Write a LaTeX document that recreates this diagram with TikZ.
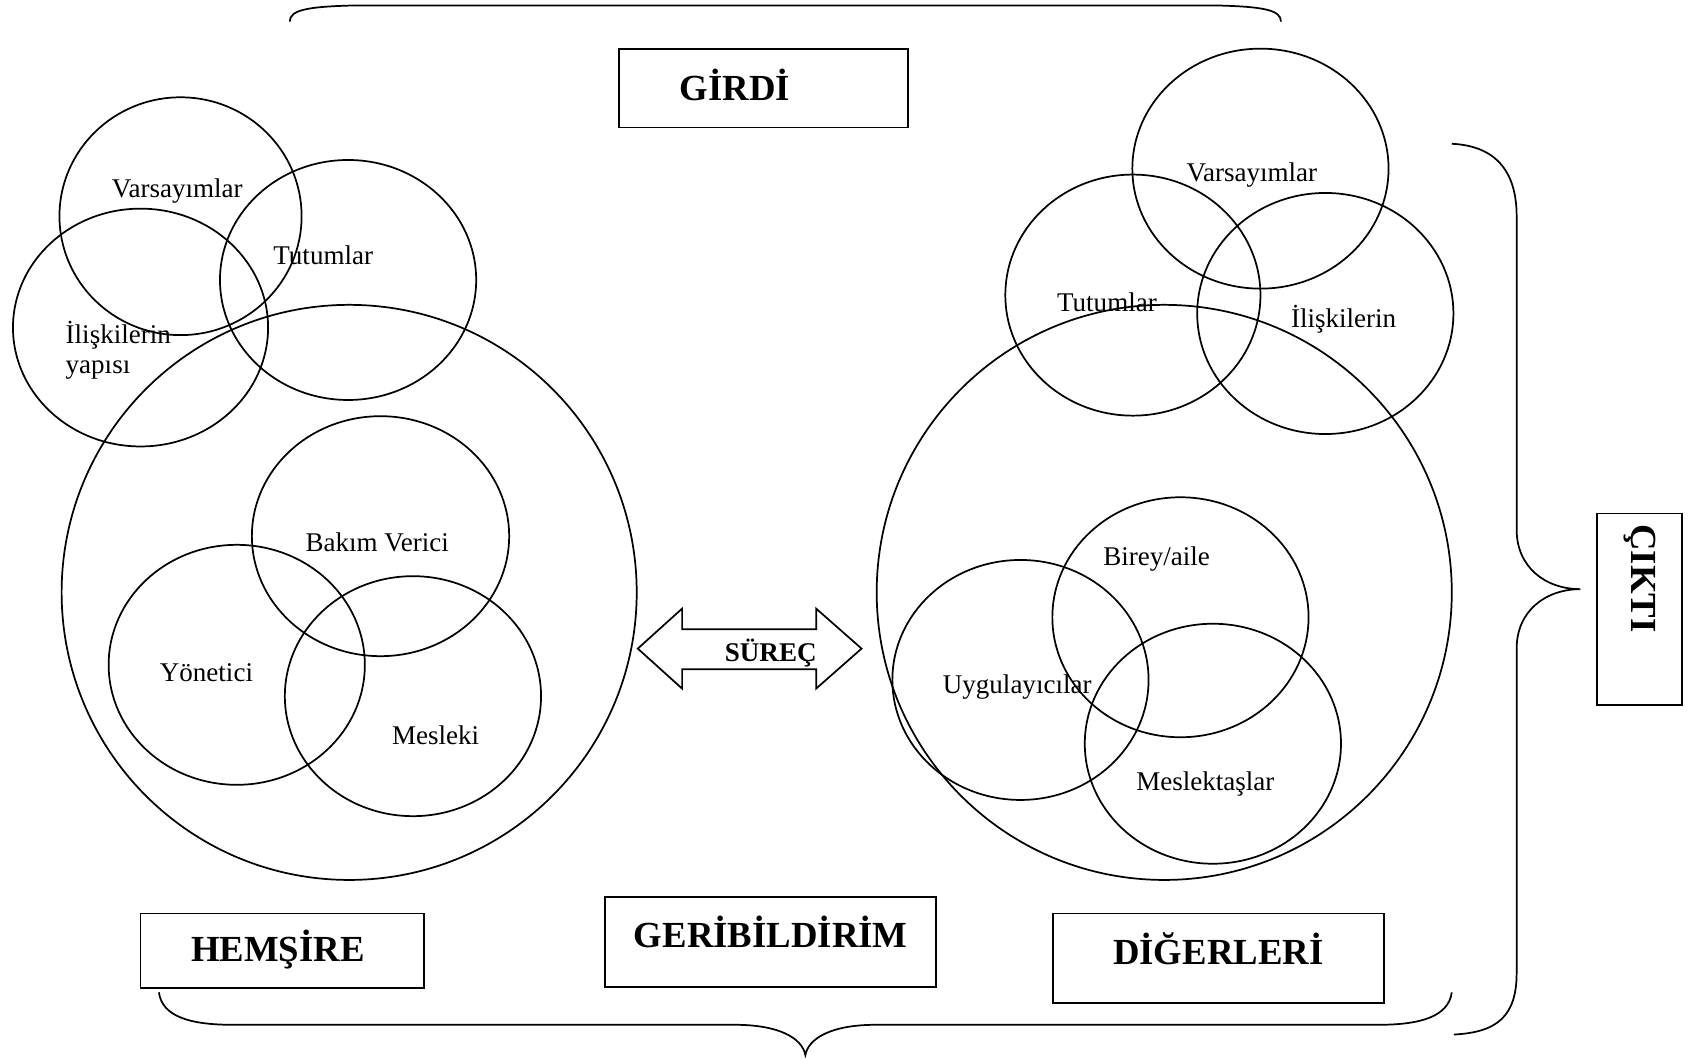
\documentclass[tikz,border=0pt]{standalone}
\usepackage{fontspec}
\setmainfont{Liberation Serif}
\begin{document}
\begin{tikzpicture}[x=1pt,y=-1pt,line width=1.6pt,
  lbl/.style={font=\fontsize{25}{30}\selectfont, inner sep=0pt},
  ttl/.style={font=\fontsize{34}{40}\selectfont\bfseries, inner sep=0pt},
  boxst/.style={draw, line width=1.7pt, inner sep=0pt}]
\useasboundingbox (0,0) rectangle (1568,980);

% braces
\draw (268,20) .. controls (268,9) and (285,6) .. (330,5) -- (1123,5) .. controls (1168,6) and (1185,9) .. (1185,20);
\draw (147,918) .. controls (150,940) and (175,948) .. (215,948) -- (680,948) .. controls (720,948) and (742,960) .. (745,976) .. controls (748,960) and (770,948) .. (810,948) -- (1275,948) .. controls (1315,948) and (1340,940) .. (1343,918);
\draw (1343,133) .. controls (1385,135) and (1403,160) .. (1403,200) -- (1403,490) .. controls (1403,525) and (1430,545) .. (1462,545) .. controls (1430,545) and (1403,565) .. (1403,600) -- (1403,900) .. controls (1403,940) and (1385,955) .. (1345,957);

% boxes
\node[boxst, minimum width=267pt, minimum height=73pt] (girdibox) at (706.5,81.5) {};
\node[ttl] (girdi) at (680,79) {GİRDİ};
\node[boxst, minimum width=79pt, minimum height=177pt] (ciktibox) at (1516.5,563.5) {};
\node[ttl, rotate=-90] (cikti) at (1517,535) {ÇIKTI};
\node[boxst, minimum width=262pt, minimum height=69pt] (hembox) at (261,879.5) {};
\node[ttl] (hem) at (257,878) {HEMŞİRE};
\node[boxst, minimum width=306pt, minimum height=83pt] (geribox) at (713,871.5) {};
\node[ttl] (geri) at (713,862) {GERİBİLDİRİM};
\node[boxst, minimum width=306pt, minimum height=83pt] (digbox) at (1127,886.5) {};
\node[ttl] (dig) at (1127,878) {DİĞERLERİ};

% left cluster
\draw (167,200) ellipse [x radius=112pt, y radius=110pt];
\draw (130,303) ellipse [x radius=118pt, y radius=110pt];
\draw (322,259) ellipse [x radius=118.5pt, y radius=111pt];
\draw (323,548) ellipse [x radius=266pt, y radius=266pt];
\draw (352,496) ellipse [x radius=119pt, y radius=111pt];
\draw (219,615) ellipse [x radius=118.5pt, y radius=111pt];
\draw (382,644) ellipse [x radius=118.5pt, y radius=111pt];
\node[lbl] (lvar) at (164,177) {Varsayımlar};
\node[lbl] (ltut) at (299,236) {Tutumlar};
\node[lbl, anchor=west] (lili) at (60,310) {İlişkilerin};
\node[lbl, anchor=west] (lyap) at (60,342) {yapısı};
\node[lbl] (lbak) at (349,502) {Bakım Verici};
\node[lbl] (lyon) at (191,622) {Yönetici};
\node[lbl] (lmes) at (403,680) {Mesleki};

% right cluster
\draw (1166,156) ellipse [x radius=118.5pt, y radius=111pt];
\draw (1048,273) ellipse [x radius=118pt, y radius=111.5pt];
\draw (1226,290) ellipse [x radius=118.5pt, y radius=111.5pt];
\draw (1077,548) ellipse [x radius=266pt, y radius=266pt];
\draw (1092,571) ellipse [x radius=118.5pt, y radius=111pt];
\draw (944,629) ellipse [x radius=118.5pt, y radius=111pt];
\draw (1122,688) ellipse [x radius=118.5pt, y radius=111pt];
\node[lbl] (rvar) at (1158,162) {Varsayımlar};
\node[lbl] (rtut) at (1024,280) {Tutumlar};
\node[lbl] (rili) at (1243,295) {İlişkilerin};
\node[lbl] (rbir) at (1070,517) {Birey/aile};
\node[lbl] (ruyg) at (941,636) {Uygulayıcılar};
\node[lbl] (rmes) at (1115,725) {Meslektaşlar};

% process arrow
\draw (590,600) -- (631,563) -- (631,582) -- (755,582) -- (755,563) -- (797,600) -- (755,637) -- (755,619) -- (631,619) -- (631,637) -- cycle;
\node[font=\fontsize{25}{30}\selectfont\bfseries, inner sep=0pt] (surec) at (713,604) {SÜREÇ};
\end{tikzpicture}
\end{document}
